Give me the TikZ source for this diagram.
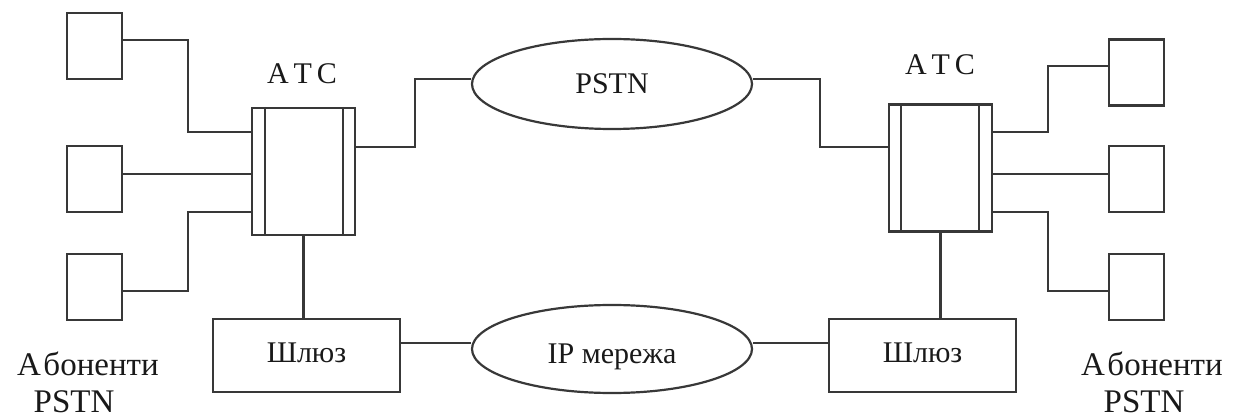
\documentclass[tikz,border=0pt]{standalone}
\usepackage{fontspec}
\setmainfont{Liberation Serif}
\usetikzlibrary{shapes.geometric,calc}
\tikzset{
  wire/.style={draw=black!78, line width=2.2pt},
  subbox/.style={draw=black!78, line width=2.2pt, minimum width=55pt, minimum height=66pt, inner sep=0pt},
  atcbox/.style={draw=black!78, line width=2.2pt, minimum width=103pt, minimum height=127pt, inner sep=0pt},
  gwbox/.style={draw=black!78, line width=2.2pt, minimum width=187pt, minimum height=73pt, inner sep=0pt,
    font=\fontsize{30}{32}\selectfont, text=black!90},
  cloud/.style={ellipse, draw=black!78, line width=2.2pt, minimum width=280pt, minimum height=90pt, inner sep=0pt,
    font=\fontsize{30}{32}\selectfont, text=black!90},
  lbl/.style={font=\fontsize{30}{32}\selectfont, text=black!90, inner sep=0pt},
  sublbl/.style={font=\fontsize{33}{36}\selectfont, text=black!90, inner sep=0pt},
}
\begin{document}
\begin{tikzpicture}[x=1pt, y=-1pt]
\useasboundingbox (0,0) rectangle (1241,419);

% subscriber terminals
\node[subbox] (L1) at (94.5,46) {};
\node[subbox] (L2) at (94.5,179) {};
\node[subbox] (L3) at (94.5,287) {};
\node[subbox] (R1) at (1136.5,72.5) {};
\node[subbox] (R2) at (1136.5,179) {};
\node[subbox] (R3) at (1136.5,287) {};

% exchanges
\node[atcbox] (atcL) at (303.5,171.5) {};
\node[atcbox] (atcR) at (940.5,168) {};
\draw[wire] ([xshift=14pt]atcL.north west) -- ([xshift=14pt]atcL.south west);
\draw[wire] ([xshift=-13pt]atcL.north east) -- ([xshift=-13pt]atcL.south east);
\draw[wire] ([xshift=13pt]atcR.north west) -- ([xshift=13pt]atcR.south west);
\draw[wire] ([xshift=-14pt]atcR.north east) -- ([xshift=-14pt]atcR.south east);
\node[lbl] (tL) at (302,74) {А\,Т\,С};
\node[lbl] (tR) at (940,65) {А\,Т\,С};

% gateways and networks
\node[gwbox] (gwL) at (306.5,355.5) {\raisebox{-7pt}[0pt][0pt]{Шлюз}};
\node[gwbox] (gwR) at (922.5,355.5) {\raisebox{-7pt}[0pt][0pt]{Шлюз}};
\node[cloud] (pstn) at (612,84) {PSTN};
\node[cloud, minimum height=88pt] (ip) at (612,349) {\raisebox{-14pt}[0pt][0pt]{IP мережа}};

% subscriber labels
\node[sublbl] (aL) at (88,364) {А\kern2.5pt боненти};
\node[sublbl] (pL) at (74,402) {PSTN};
\node[sublbl] (aR) at (1152,364) {А\kern2.5pt боненти};
\node[sublbl] (pR) at (1144,402) {PSTN};

% left subscriber lines
\draw[wire] ([yshift=6pt]L1.east) -- ++(65,0) |- ([yshift=39.5pt]atcL.west);
\draw[wire] ([yshift=5pt]L2.east) -- ([yshift=5pt]L2.east -| atcL.west);
\draw[wire] ([yshift=-4pt]L3.east) -- ++(65,0) |- ([yshift=-40.5pt]atcL.west);

% right subscriber lines
\draw[wire] ([yshift=6.5pt]R1.west) -- ++(-60,0) |- ([yshift=36pt]atcR.east);
\draw[wire] ([yshift=5pt]R2.west) -- ([yshift=5pt]R2.west -| atcR.east);
\draw[wire] ([yshift=-4pt]R3.west) -- ++(-60,0) |- ([yshift=-44pt]atcR.east);

% exchange to PSTN
\draw[wire] ([yshift=24.5pt]atcL.east) -- ++(59,0) |- ([yshift=5pt]pstn.west);
\draw[wire] ([yshift=5pt]pstn.east) -- ++(67,0) |- ([yshift=21pt]atcR.west);

% exchange to gateway
\draw[wire] (atcL.south) -- (atcL.south |- gwL.north);
\draw[wire] (atcR.south) -- (atcR.south |- gwR.north);

% gateway to IP network
\draw[wire] ([yshift=12.5pt]gwL.east) -- ([yshift=6pt]ip.west);
\draw[wire] ([yshift=6pt]ip.east) -- ([yshift=12.5pt]gwR.west);
\end{tikzpicture}
\end{document}
